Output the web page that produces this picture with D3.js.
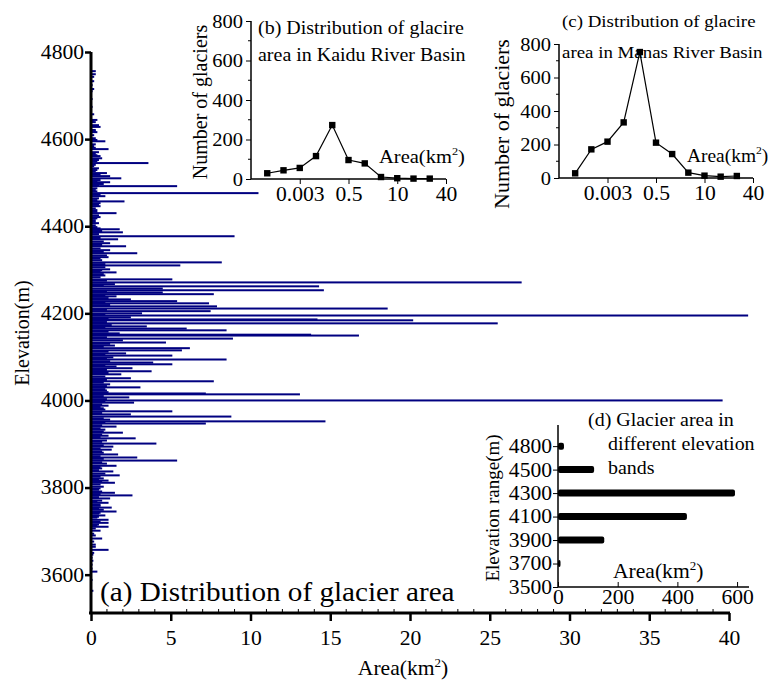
<!DOCTYPE html>
<html><head><meta charset="utf-8">
<script src="https://cdn.jsdelivr.net/npm/d3@7"></script>
<style>body{margin:0;background:#fff}svg{display:block}text{font-family:"Liberation Serif","Times New Roman",serif;fill:#000}</style>
</head><body>
<svg id="c" width="768" height="682"></svg>
<script>
// ---- (a) glacier elevation (m) and area (km2)
const glacierElev = [4756,4749,4743,4733,4724,4715,4710,4692,4674,4657,4644,4639,4632,4628,4621,4616,4609,4602,4595,4588,4584,4577,4570,4566,4561,4556,4549,4545,4538,4533,4526,4522,4515,4510,4506,4501,4497,4492,4487,4483,4476,4469,4464,4457,4453,4446,4441,4437,4430,4425,4421,4414,4407,4402,4398,4393,4386,4382,4377,4370,4365,4361,4354,4349,4345,4338,4333,4329,4322,4317,4310,4306,4301,4297,4294,4287,4283,4278,4271,4267,4262,4257,4253,4248,4244,4239,4232,4228,4223,4216,4211,4205,4200,4195,4191,4186,4184,4177,4170,4165,4161,4154,4151,4149,4142,4138,4133,4126,4120,4115,4108,4103,4099,4094,4087,4083,4078,4074,4067,4060,4051,4044,4037,4030,4023,4016,4014,4007,4000,3995,3988,3982,3975,3968,3963,3956,3952,3947,3940,3933,3926,3919,3913,3908,3901,3894,3887,3880,3876,3869,3862,3855,3850,3844,3837,3832,3828,3821,3816,3811,3807,3802,3795,3788,3782,3775,3770,3765,3761,3754,3749,3745,3740,3736,3731,3726,3719,3715,3710,3706,3701,3694,3690,3683,3676,3669,3664,3657,3650,3646,3639,3632,3623,3614,3607,3588,3563,
  4642,4618,4598,4580,4563,4552,4541,4529,4518,4503,4494,4480,4472,4460,4449,4433,4418,4410,4395,4389,4373,4357,4341,4326,4313,4299,4290,4275,4264,4250,4242,4235,4225,4219,4208,4198,4188,4180,4173,4167,4158,4145,4130,4123,4112,4105,4096,4090,4080,4070,4063,4055,4047,4041,4033,4026,4019,4010,4003,3997,3991,3985,3979,3971,3959,3950,3943,3936,3929,3922,3916,3905,3897,3890,3883,3872,3866,3858,3847,3840,3825,3818,3813,3798,3791,3785,3778,3767,3758,3752,3742,3733,3722,3712];
const glacierArea = [0.3,0.3,0.2,0.2,0.1,0.2,0.1,0.1,0.1,0.2,0.4,0.3,0.5,0.6,0.3,0.4,0.2,0.3,0.9,0.3,0.2,1.1,0.5,0.3,0.6,0.7,0.4,3.6,0.2,0.5,0.3,1.0,1.2,1.9,0.6,1.2,0.8,5.4,0.4,0.3,10.5,0.9,0.5,2.1,0.6,0.6,0.3,0.4,1.6,0.5,0.6,0.3,0.5,0.3,0.4,1.8,2.0,0.5,9.0,1.7,0.8,1.2,2.2,0.6,1.2,2.9,1.0,1.1,0.7,8.2,5.6,0.9,1.2,0.6,1.6,0.9,0.6,5.1,27.0,1.5,14.3,4.5,14.6,4.5,7.7,1.6,2.5,5.4,7.4,7.9,18.6,7.5,3.2,41.2,2.5,14.2,20.2,25.5,3.5,6.0,8.5,1.8,13.8,16.8,8.9,2.0,4.7,1.5,6.2,5.7,2.2,5.1,1.4,8.5,3.9,5.1,1.6,2.6,3.8,1.9,2.5,7.7,1.2,3.1,1.0,7.2,13.1,2.4,39.6,2.7,1.1,0.8,5.1,2.5,8.8,1.2,14.7,7.2,1.6,0.9,2.0,1.1,2.8,1.0,4.1,1.4,1.3,0.8,1.7,2.9,5.4,1.0,1.6,0.7,1.4,0.9,1.8,0.8,1.1,1.5,0.6,0.8,0.5,1.5,2.6,1.2,0.7,1.1,0.6,1.3,0.8,1.6,0.5,0.9,0.4,1.1,1.1,0.5,1.1,0.3,0.6,0.2,0.3,0.7,0.2,0.3,0.3,1.1,0.2,0.15,0.1,0.15,0.1,0.1,0.4,0.1,0.15,
  0.2,0.3,0.4,0.3,0.4,0.5,0.3,0.4,0.6,0.4,0.5,0.4,0.6,0.4,0.5,0.4,0.4,0.3,0.6,0.7,0.6,0.7,0.8,0.6,0.9,0.7,0.8,1.0,0.8,1.0,0.9,1.1,0.9,1.2,1.0,0.9,1.1,1.0,1.3,0.9,1.1,1.0,1.2,0.8,1.1,0.9,1.0,1.2,0.9,1.0,1.1,0.9,1.0,0.8,1.0,0.9,1.1,0.8,1.0,0.9,0.7,0.6,0.9,0.7,0.8,0.9,0.7,0.6,0.8,0.7,0.6,0.7,0.8,0.6,0.7,0.6,0.8,0.7,0.6,0.5,0.6,0.5,0.7,0.6,0.7,0.6,0.5,0.4,0.6,0.5,0.6,0.5,0.6,0.4];
const mainYTicks = [3600,3800,4000,4200,4400,4600,4800];
const mainXTicks = [0,5,10,15,20,25,30,35,40];

// ---- (b),(c) number of glaciers per area class
const areaClassTickLabels = ["0.003","0.5","10","40"];
const areaClassTickIndex = [2,5,8,11];
const kaiduCounts = [29,44,56,116,273,96,79,10,4,2,2];
const manasCounts = [28,171,217,332,752,211,143,32,14,8,12];
const countTicks = [0,200,400,600,800];

// ---- (d) glacier area in elevation bands
const bandLabels = ["3500","3700","3900","4100","4300","4500","4800"];
const bandAreas = [null,5,155,432,593,121,20];
const bandXTicks = [0,200,400,600];

const svg = d3.select("#c");
const NAVY = "#000080";
const FONT = "Liberation Serif";

function sup(textSel, base, supTxt, after){
  textSel.append("tspan").text(base);
  textSel.append("tspan").attr("dy",-8).attr("font-size","0.6em").text(supTxt);
  textSel.append("tspan").attr("dy",8).text(after);
}

// ===== (a) main chart
const x = d3.scaleLinear().domain([0,40]).range([91,729]);
const y = d3.scaleLinear().domain([3512,4800]).range([613,52]);
const gA = svg.append("g");
gA.selectAll("rect.bar").data(glacierElev.map((e,i)=>({e,a:glacierArea[i]})).sort((p,q)=>q.a-p.a))
  .join("rect").attr("class","bar")
  .attr("x",x(0)).attr("y",d=>y(d.e)-1)
  .attr("width",d=>x(d.a)-x(0)).attr("height",2).attr("fill",NAVY);

// x axis
const xAx = gA.append("g").attr("transform","translate(0,613)");
xAx.call(d3.axisBottom(x).tickValues(mainXTicks).tickSize(8).tickPadding(10).tickFormat(d3.format("d")));
xAx.select(".domain").attr("stroke-width",3).attr("d","M89,0H730");
xAx.selectAll(".tick line").attr("stroke-width",2.5);
xAx.selectAll("text").attr("font-size",20).attr("font-family",FONT);
gA.append("g").attr("transform","translate(0,613)").selectAll("line")
  .data(d3.range(1,40).filter(v=>v%5))
  .join("line").attr("x1",d=>x(d)).attr("x2",d=>x(d)).attr("y1",0).attr("y2",-4)
  .attr("stroke","#000").attr("stroke-width",1);
// y axis
const yAx = gA.append("g").attr("transform","translate(91,0)");
yAx.call(d3.axisLeft(y).tickValues(mainYTicks).tickSize(6).tickPadding(1).tickFormat(d3.format("d")));
yAx.select(".domain").attr("stroke-width",3).attr("d","M0,52V614");
yAx.selectAll(".tick line").attr("stroke-width",2.5);
yAx.selectAll("text").attr("font-size",20).attr("font-family",FONT);

sup(gA.append("text").attr("x",403).attr("y",675).attr("text-anchor","middle").attr("font-size",20),"Area(km","2",")");
gA.append("text").attr("transform","translate(29,333) rotate(-90)").attr("text-anchor","middle")
  .attr("font-size",20).text("Elevation(m)");
gA.append("text").attr("x",100).attr("y",601).attr("font-size",27).text("(a) Distribution of glacier area");

// ===== (b)/(c) insets
function inset(counts, x0, x1, yBottom, yTop, opts){
  const g = svg.append("g");
  const xs = d3.scaleLinear().domain([-1,11]).range([x0,x1]);
  const ys = d3.scaleLinear().domain([0,800]).range([yBottom,yTop]);
  const xa = g.append("g").attr("transform",`translate(0,${yBottom})`)
    .call(d3.axisBottom(xs).tickValues(areaClassTickIndex).tickSize(5).tickPadding(3)
      .tickFormat((d,i)=>areaClassTickLabels[i]));
  xa.select(".domain").attr("stroke-width",1.5).attr("d",`M${x0},0H${x1}`);
  xa.selectAll("text").attr("font-size",20).attr("font-family",FONT);
  const ya = g.append("g").attr("transform",`translate(${x0},0)`)
    .call(d3.axisLeft(ys).tickValues(countTicks).tickSize(5).tickPadding(3).tickFormat(d3.format("d")));
  ya.select(".domain").attr("stroke-width",1.5).attr("d",`M0,${yBottom}V${yTop}`);
  ya.selectAll("text").attr("font-size",19).attr("font-family",FONT);
  g.append("g").attr("transform",`translate(${x0},0)`).selectAll("line").data([100,300,500,700])
    .join("line").attr("x1",0).attr("x2",-3).attr("y1",d=>ys(d)).attr("y2",d=>ys(d)).attr("stroke","#000");
  g.append("path").datum(counts).attr("fill","none").attr("stroke","#000").attr("stroke-width",1.2)
    .attr("d",d3.line().x((d,i)=>xs(i)).y(d=>ys(d)));
  g.selectAll("rect.m").data(counts).join("rect").attr("class","m")
    .attr("x",(d,i)=>xs(i)-3.2).attr("y",d=>ys(d)-3.2).attr("width",6.4).attr("height",6.4).attr("fill","#000");
  g.append("text").attr("transform",`translate(${opts.tx},${opts.ty}) rotate(-90)`).attr("text-anchor","middle")
    .attr("font-size",opts.tfs).text("Number of glaciers");
  g.append("text").attr("x",opts.l1x).attr("y",opts.l1y).attr("font-size",opts.fs).text(opts.line1);
  g.append("text").attr("x",opts.l2x).attr("y",opts.l2y).attr("font-size",opts.fs).text(opts.line2);
  sup(g.append("text").attr("x",opts.ax).attr("y",opts.ay).attr("font-size",opts.afs),"Area(km","2",")");
}
inset(kaiduCounts,251,446,179,21,{tx:207,ty:102,tfs:20,fs:18.5,afs:19,line1:"(b) Distribution of glacire",l1x:258,l1y:34,
  line2:"area in Kaidu River Basin",l2x:258,l2y:61,ax:379,ay:163});
inset(manasCounts,559,753,178,44,{tx:509,ty:124,tfs:22,fs:17.5,afs:18,line1:"(c) Distribution of glacire",l1x:562,l1y:27,
  line2:"area in Manas River Basin",l2x:562,l2y:58,ax:687,ay:162});

// ===== (d) elevation bands
const gD = svg.append("g");
const xd = d3.scaleLinear().domain([0,640]).range([558,749]);
const yd = d3.scaleLinear().domain([0,6.9]).range([587,425]);
const xda = gD.append("g").attr("transform","translate(0,587)")
  .call(d3.axisBottom(xd).tickValues(bandXTicks).tickSize(-5).tickPadding(3).tickFormat(d3.format("d")));
xda.select(".domain").attr("stroke-width",1.5).attr("d","M558,0H749");
xda.selectAll("text").attr("font-size",20).attr("font-family",FONT);
const yda = gD.append("g").attr("transform","translate(558,0)")
  .call(d3.axisLeft(yd).tickValues(d3.range(7)).tickSize(5).tickPadding(1).tickFormat(i=>bandLabels[i]));
yda.select(".domain").attr("stroke-width",1.5).attr("d","M0,587V425");
yda.selectAll("text").attr("font-size",20).attr("font-family",FONT);
gD.selectAll("rect.b").data(bandAreas.map((v,i)=>({v,i})).filter(d=>d.v!=null)).join("rect").attr("class","b")
  .attr("x",xd(0)).attr("y",d=>yd(d.i)-3.5).attr("width",d=>Math.max(xd(d.v)-xd(0),2.5)).attr("height",7)
  .attr("rx",2).attr("fill","#000");
gD.append("text").attr("transform","translate(499,508) rotate(-90)").attr("text-anchor","middle")
  .attr("font-size",19).text("Elevation range(m)");
gD.append("text").attr("x",588).attr("y",426).attr("font-size",18.5).text("(d) Glacier area in");
gD.append("text").attr("x",608).attr("y",450).attr("font-size",18.5).text("different elevation");
gD.append("text").attr("x",608).attr("y",474).attr("font-size",18.5).text("bands");
sup(gD.append("text").attr("x",613).attr("y",578).attr("font-size",20),"Area(km","2",")");

// horizontal stretch of upright text to match the reference glyph proportions
const SX = 1.08;
svg.selectAll("text").each(function(){
  const t = d3.select(this);
  const tr = t.attr("transform") || "";
  if (tr.includes("rotate")) return;
  const tx = +(t.attr("x") || 0);
  t.attr("transform", `${tr} translate(${tx},0) scale(${SX},1) translate(${-tx},0)`);
});
</script>
</body></html>
